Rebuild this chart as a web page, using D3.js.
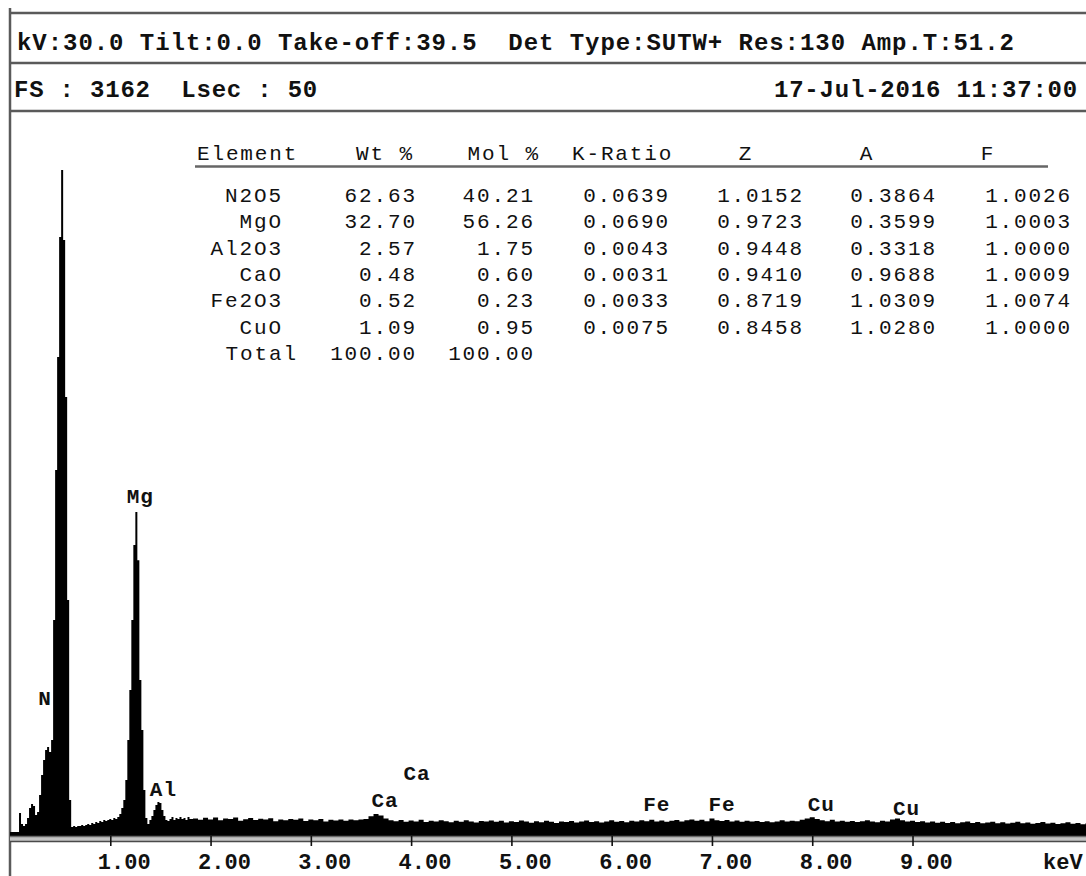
<!DOCTYPE html>
<html>
<head>
<meta charset="utf-8">
<script src="https://cdn.jsdelivr.net/npm/d3@7"></script>
<style>
  body { margin: 0; background: #fff; }
  svg { display: block; }
  text { font-family: "Liberation Mono", "DejaVu Sans Mono", monospace; fill: #111; }
</style>
</head>
<body>
<svg id="chart" width="1086" height="876"></svg>
<script>
// acquisition header
const headerLine1 = 'kV:30.0 Tilt:0.0 Take-off:39.5  Det Type:SUTW+ Res:130 Amp.T:51.2';
const headerLine2 = 'FS : 3162  Lsec : 50';
const headerDate = '17-Jul-2016 11:37:00';

// quantification table
const columns = ['Element', 'Wt %', 'Mol %', 'K-Ratio', 'Z', 'A', 'F'];
const elements = ['N2O5', 'MgO', 'Al2O3', 'CaO', 'Fe2O3', 'CuO'];
const wtPct = [62.63, 32.70, 2.57, 0.48, 0.52, 1.09];
const molPct = [40.21, 56.26, 1.75, 0.60, 0.23, 0.95];
const kRatio = [0.0639, 0.0690, 0.0043, 0.0031, 0.0033, 0.0075];
const zFactor = [1.0152, 0.9723, 0.9448, 0.9410, 0.8719, 0.8458];
const aFactor = [0.3864, 0.3599, 0.3318, 0.9688, 1.0309, 1.0280];
const fFactor = [1.0026, 1.0003, 1.0000, 1.0009, 1.0074, 1.0000];
const totalWt = 100.00;
const totalMol = 100.00;

// spectrum, counts per channel
const fullScale = 3162;
const lowStart = 0, lowStep = 0.02;
const lowCounts = [
  0, 0, 0, 0, 5, 95, 45, 36, 45, 72, 117, 135, 126, 86, 99, 176, 266, 334, 379, 393,
  370, 425, 967, 1644, 2155, 2697, 2999, 2683, 1974, 1057, 154, 32, 36, 32, 36, 36, 41, 36, 41, 45,
  41, 50, 45, 54, 50, 59, 54, 63, 59, 63, 68, 63, 72, 68, 77, 90, 117, 154, 244, 425,
  650, 967, 1305, 1454, 1237, 696, 470, 199, 72, 45, 63, 81, 108, 131, 145, 140, 108, 81, 63, 59,
  68, 77, 63, 72, 68, 77, 68, 72, 63, 77, 68
];
const highStart = 1.85, highStep = 0.05;
const highCounts = [
  70, 64, 73, 66, 75, 62, 70, 68, 74, 60, 67, 72, 63, 69, 65, 71, 58, 66, 62, 68,
  64, 70, 59, 66, 62, 68, 57, 64, 61, 66, 60, 65, 62, 66, 68, 80, 90, 84, 70, 62,
  58, 63, 55, 61, 57, 64, 54, 60, 56, 62, 58, 53, 60, 55, 62, 57, 52, 59, 56, 61,
  55, 60, 52, 58, 54, 61, 56, 51, 58, 53, 60, 55, 50, 57, 54, 59, 52, 56, 61, 54,
  58, 52, 57, 62, 55, 59, 53, 60, 56, 62, 58, 64, 57, 61, 55, 60, 63, 57, 62, 66,
  60, 64, 58, 70, 62, 59, 63, 57, 61, 55, 60, 56, 59, 54, 58, 53, 57, 62, 56, 60,
  58, 64, 70, 76, 68, 62, 58, 64, 56, 60, 55, 59, 54, 58, 62, 57, 53, 60, 56, 66,
  70, 62, 56, 60, 54, 58, 52, 56, 51, 55, 50, 54, 49, 53, 57, 50, 54, 48, 52, 55,
  49, 53, 47, 51, 55, 48, 52, 46, 50, 54, 47, 51, 45, 49, 53, 46, 50, 44, 48
];

// peak markers
const peakLabels = ['N', 'Mg', 'Al', 'Ca', 'Ca', 'Fe', 'Fe', 'Cu', 'Cu'];
const peakKeV = [0.35, 1.30, 1.53, 4.06, 3.74, 6.45, 7.10, 8.09, 8.94];
const peakCounts = [583, 1495, 172, 244, 122, 104, 104, 104, 86];

const tickKeV = [1, 2, 3, 4, 5, 6, 7, 8, 9];

const svg = d3.select('#chart');
const W = 1086, H = 876;

const spectrum = lowCounts.map((c, i) => ({ e: lowStart + i * lowStep, c }))
  .concat(highCounts.map((c, i) => ({ e: highStart + i * highStep, c })));

const x = d3.scaleLinear().domain([0, 10.73]).range([10, W]);
const y = d3.scaleLinear().domain([0, fullScale]).range([834, 134]);

// frame lines
const frame = svg.append('g').attr('stroke', '#5a5a5a').attr('stroke-width', 2.5);
[13, 63, 111].forEach(yy => {
  frame.append('line').attr('x1', 9).attr('x2', W).attr('y1', yy).attr('y2', yy);
});
frame.append('line').attr('x1', 10).attr('x2', 10).attr('y1', 8).attr('y2', H);

// header text
svg.append('text').attr('x', 17).attr('y', 50)
  .attr('font-size', 24).attr('font-weight', 'bold').attr('letter-spacing', 0.95)
  .style('white-space', 'pre')
  .text(headerLine1);
svg.append('text').attr('x', 14).attr('y', 97)
  .attr('font-size', 24).attr('font-weight', 'bold').attr('letter-spacing', 0.8)
  .style('white-space', 'pre')
  .text(headerLine2);
svg.append('text').attr('x', 1078).attr('y', 97).attr('text-anchor', 'end')
  .attr('font-size', 24).attr('font-weight', 'bold').attr('letter-spacing', 0.8)
  .text(headerDate);

// spectrum fill, drawn as a histogram
const area = d3.area()
  .curve(d3.curveStep)
  .x(d => x(d.e))
  .y0(836)
  .y1(d => y(d.c));
svg.append('path').datum(spectrum).attr('d', area).attr('fill', '#000');
svg.append('rect').attr('x', x(0)).attr('y', 832).attr('width', x(spectrum[spectrum.length - 1].e) - x(0)).attr('height', 4).attr('fill', '#000');

// axis band
svg.append('rect').attr('x', 10).attr('y', 836).attr('width', W - 10).attr('height', 6).attr('fill', '#c4c4c4');
svg.append('line').attr('x1', 10).attr('x2', W).attr('y1', 836.5).attr('y2', 836.5).attr('stroke', '#6a6a6a').attr('stroke-width', 1.5);
svg.append('line').attr('x1', 10).attr('x2', W).attr('y1', 841.5).attr('y2', 841.5).attr('stroke', '#4a4a4a').attr('stroke-width', 1.5);

const axis = svg.append('g').attr('transform', 'translate(0,836)')
  .call(d3.axisBottom(x).tickValues(tickKeV).tickSize(10).tickFormat(d3.format('.2f')));
axis.select('.domain').remove();
axis.selectAll('.tick line').attr('stroke', '#111').attr('stroke-width', 1.6);
axis.selectAll('.tick text')
  .attr('text-anchor', 'start').attr('x', -13).attr('y', 33).attr('dy', 0)
  .attr('font-family', '"Liberation Mono", monospace')
  .attr('font-size', 22).attr('font-weight', 'bold').attr('fill', '#111');
svg.append('text').attr('x', 1043).attr('y', 869)
  .attr('font-size', 22).attr('font-weight', 'bold').text('keV');

// peak labels
svg.append('g').selectAll('text').data(peakLabels).join('text')
  .attr('x', (d, i) => x(peakKeV[i]))
  .attr('y', (d, i) => y(peakCounts[i]))
  .attr('text-anchor', 'middle')
  .attr('font-size', 21).attr('font-weight', 'bold').attr('letter-spacing', 1)
  .text(d => d);

// table
const tbl = svg.append('g').attr('font-size', 21);
const ls = 1.85;
const rowY = d3.scaleLinear().domain([0, 6]).range([202, 360]);
const headerX = [197, 412, 538, 572, 745, 866, 987];
const headerAnchor = ['start', 'end', 'end', 'start', 'middle', 'middle', 'middle'];
tbl.selectAll('text.hdr').data(columns).join('text').attr('class', 'hdr')
  .attr('x', (d, i) => headerX[i] + (headerAnchor[i] === 'end' ? ls : headerAnchor[i] === 'middle' ? ls / 2 : 0))
  .attr('y', 160)
  .attr('text-anchor', (d, i) => headerAnchor[i])
  .attr('letter-spacing', ls).style('white-space', 'pre')
  .text(d => d);
tbl.append('line').attr('x1', 195).attr('x2', 1048).attr('y1', 166.5).attr('y2', 166.5)
  .attr('stroke', '#666').attr('stroke-width', 2.5);

const colRight = [281, 415, 533, 668, 802, 935, 1070];
const rows = elements.map((el, i) => [
  el, wtPct[i].toFixed(2), molPct[i].toFixed(2), kRatio[i].toFixed(4),
  zFactor[i].toFixed(4), aFactor[i].toFixed(4), fFactor[i].toFixed(4)
]);
rows.forEach((r, i) => {
  tbl.append('g').selectAll('text').data(r).join('text')
    .attr('x', (d, j) => colRight[j] + ls)
    .attr('y', rowY(i))
    .attr('text-anchor', 'end')
    .attr('letter-spacing', ls)
    .text(d => d);
});
const totalRow = ['Total', totalWt.toFixed(2), totalMol.toFixed(2)];
const totalRight = [296, 415, 533];
tbl.append('g').selectAll('text').data(totalRow).join('text')
  .attr('x', (d, j) => totalRight[j] + ls)
  .attr('y', rowY(6))
  .attr('text-anchor', 'end')
  .attr('letter-spacing', ls)
  .text(d => d);
</script>
</body>
</html>
